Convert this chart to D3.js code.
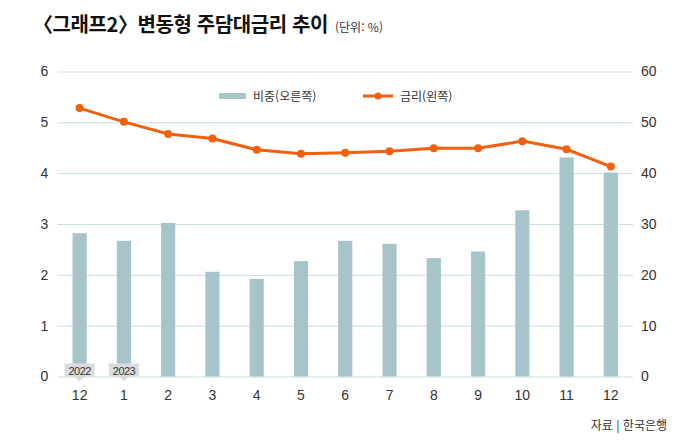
<!DOCTYPE html>
<html lang="ko">
<head>
<meta charset="UTF-8">
<title>변동형 주담대금리 추이</title>
<script src="https://d3js.org/d3.v7.min.js"></script>
<style>
    body { margin: 0; background: #fff; }
    svg { display: block; font-family: "Noto Sans CJK KR", "Noto Sans", sans-serif; }
    .grid line { stroke: #c9dfe2; stroke-width: 1px; }
    .grid path { display: none; }
    .axis path, .axis line { display: none; }
    .axis text { font-size: 14px; fill: #333; font-family: "Liberation Sans", Arial, sans-serif; }
    .bar { fill: #a8c4cb; }
    .rateLine { fill: none; stroke: #f0600f; stroke-width: 3px; }
    .rateDot { fill: #f0600f; }
    .legend text { font-size: 12px; fill: #333; }
</style>
</head>
<body>
<div id="chart"></div>
<script>
    // 월 (2022.12 ~ 2023.12)
    var months = ["12", "1", "2", "3", "4", "5", "6", "7", "8", "9", "10", "11", "12"];
    // 비중 (오른쪽 축, %)
    var shares = [28.2, 26.7, 30.2, 20.6, 19.2, 22.7, 26.7, 26.1, 23.3, 24.6, 32.7, 43.1, 40.1];
    // 금리 (왼쪽 축, %)
    var rates = [5.28, 5.01, 4.77, 4.68, 4.46, 4.38, 4.40, 4.43, 4.49, 4.49, 4.63, 4.47, 4.13];
    var leftTicks = [0, 1, 2, 3, 4, 5, 6];
    var rightTicks = [0, 10, 20, 30, 40, 50, 60];
    var yearTags = [{ idx: 0, label: "2022" }, { idx: 1, label: "2023" }];

    var w = 700, h = 445;
    var plotLeft = 57.5, plotRight = 633, plotTop = 71.5, plotBottom = 376.5;

    var svg = d3.select("#chart").append("svg")
        .attr("width", w)
        .attr("height", h);

    // keys are index so the two "12" months stay separate
    var x = d3.scaleBand()
        .domain(months.map(function(d, i) { return i; }))
        .range([plotLeft, plotRight])
        .paddingInner(0.68)
        .paddingOuter(0.34);

    var yLeft = d3.scaleLinear().domain([0, 6]).range([plotBottom, plotTop]);
    var yRight = d3.scaleLinear().domain([0, 60]).range([plotBottom, plotTop]);

    // title
    var title = svg.append("text")
        .attr("x", 33)
        .attr("y", 32);
    title.append("tspan")
        .attr("font-size", "20px")
        .attr("font-weight", "bold")
        .attr("fill", "#111")
        .attr("letter-spacing", "-0.4px")
        .text("〈그래프2〉변동형 주담대금리 추이");
    title.append("tspan")
        .attr("font-size", "12px")
        .attr("fill", "#333")
        .attr("dx", 7)
        .text("(단위: %)");

    // gridlines
    svg.append("g")
        .attr("class", "grid")
        .attr("transform", "translate(" + plotLeft + ",0)")
        .call(d3.axisLeft(yLeft).tickValues(leftTicks).tickSize(-(plotRight - plotLeft)).tickFormat(""));

    // bars
    svg.selectAll(".bar")
        .data(shares)
        .enter()
        .append("rect")
        .attr("class", "bar")
        .attr("x", function(d, i) { return x(i); })
        .attr("width", x.bandwidth())
        .attr("y", function(d) { return yRight(d); })
        .attr("height", function(d) { return yRight(0) - yRight(d); });

    // rate line
    var line = d3.line()
        .x(function(d, i) { return x(i) + x.bandwidth() / 2; })
        .y(function(d) { return yLeft(d); });

    svg.append("path")
        .datum(rates)
        .attr("class", "rateLine")
        .attr("d", line);

    svg.selectAll(".rateDot")
        .data(rates)
        .enter()
        .append("circle")
        .attr("class", "rateDot")
        .attr("cx", function(d, i) { return x(i) + x.bandwidth() / 2; })
        .attr("cy", function(d) { return yLeft(d); })
        .attr("r", 4);

    // axes
    svg.append("g")
        .attr("class", "axis")
        .attr("transform", "translate(" + (plotLeft - 9) + ",0)")
        .call(d3.axisLeft(yLeft).tickValues(leftTicks).tickSize(0).tickPadding(0).tickFormat(d3.format("d")))
        .selectAll("text")
        .attr("text-anchor", "middle")
        .attr("dx", -4);

    svg.append("g")
        .attr("class", "axis")
        .attr("transform", "translate(" + (plotRight + 8) + ",0)")
        .call(d3.axisRight(yRight).tickValues(rightTicks).tickSize(0).tickPadding(0));

    svg.append("g")
        .attr("class", "axis")
        .attr("transform", "translate(0," + (plotBottom + 11) + ")")
        .call(d3.axisBottom(x).tickSize(0).tickFormat(function(i) { return months[i]; }));

    // year tags on first two months
    var tags = svg.selectAll(".yearTag")
        .data(yearTags)
        .enter()
        .append("g")
        .attr("transform", function(d) {
            return "translate(" + (x(d.idx) + x.bandwidth() / 2) + "," + (plotBottom - 6) + ")";
        });
    tags.append("rect")
        .attr("x", -15)
        .attr("y", -7)
        .attr("width", 30)
        .attr("height", 13)
        .attr("fill", "#dcdcdc");
    tags.append("path")
        .attr("d", "M-5,6 L5,6 L0,11 Z")
        .attr("fill", "#dcdcdc");
    tags.append("text")
        .attr("text-anchor", "middle")
        .attr("y", 4)
        .attr("font-size", "11px")
        .attr("letter-spacing", "-0.6px")
        .attr("font-family", "'Liberation Sans', Arial, sans-serif")
        .attr("fill", "#333")
        .text(function(d) { return d.label; });

    // legend
    var legend = svg.append("g").attr("class", "legend");
    legend.append("rect")
        .attr("x", 219).attr("y", 93)
        .attr("width", 27).attr("height", 6)
        .attr("fill", "#a8c4cb");
    legend.append("text")
        .attr("x", 253).attr("y", 100.5)
        .text("비중(오른쪽)");
    legend.append("line")
        .attr("x1", 363).attr("x2", 393)
        .attr("y1", 96).attr("y2", 96)
        .attr("stroke", "#f0600f")
        .attr("stroke-width", 3);
    legend.append("circle")
        .attr("cx", 378).attr("cy", 96).attr("r", 3.5)
        .attr("fill", "#f0600f");
    legend.append("text")
        .attr("x", 400).attr("y", 100.5)
        .text("금리(왼쪽)");

    // source
    svg.append("text")
        .attr("x", 667)
        .attr("y", 430)
        .attr("text-anchor", "end")
        .attr("font-size", "12px")
        .attr("fill", "#333")
        .text("자료 | 한국은행");
</script>
</body>
</html>
